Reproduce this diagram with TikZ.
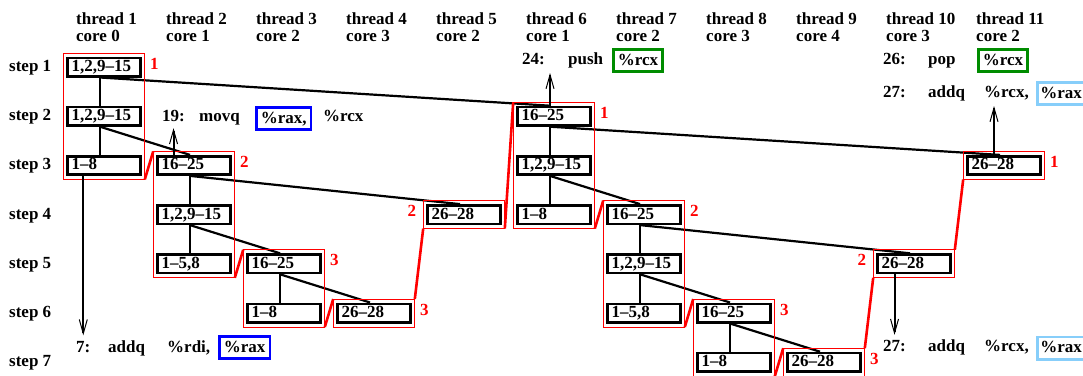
\documentclass[tikz,border=0pt]{standalone}
\usepackage{fontspec}
\setmainfont{Liberation Serif}
\usetikzlibrary{fit,arrows.meta}

\definecolor{regblue}{RGB}{0,0,255}
\definecolor{reggreen}{RGB}{0,140,0}
\definecolor{reglight}{RGB}{135,206,250}

\begin{document}
\begin{tikzpicture}[x=1pt, y=-1pt,
    font={\fontsize{17pt}{17pt}\selectfont\bfseries},
    txt/.style={anchor=west, inner sep=0pt, text height=12pt, text depth=3pt},
    tbox/.style={draw, line width=2.6pt, fill=white, text width=65pt, align=left,
        inner xsep=4pt, inner ysep=1.5pt, minimum height=18.4pt, text height=12pt, text depth=3pt},
    regbox/.style={draw=#1, line width=2.6pt, fill=white, anchor=west,
        inner xsep=4.5pt, inner ysep=3.7pt, text height=12pt, text depth=3pt},
    grp/.style={draw=red, line width=0.8pt, inner xsep=3pt, inner ysep=3.5pt, outer sep=0pt},
    hop/.style={red, line width=2.6pt},
    lvl/.style={red, inner sep=0pt, text height=12pt, text depth=3pt},
    link/.style={line width=2.2pt},
    uses/.style={line width=2pt, -{Straight Barb[length=14pt,width=8pt,line width=1pt]}}]
    \useasboundingbox (0,0) rectangle (1083,375);

    % headers and steps
    \foreach \t/\c in {1/0,2/1,3/2,4/3,5/2,6/1,7/2,8/3,9/4,10/3,11/2}
        \node[anchor=west, align=left, inner sep=0pt] (th\t) at ({-14+90*\t},27) {thread \t\\core \c};
    \foreach \s in {1,...,7}
        \node[txt] (step\s) at (9,{67+49.2*(\s-1)}) {step \s};

    % task boxes
    \node[tbox] (t1s1) at (104,67) {1,2,9--15};
    \node[tbox] (t1s2) at (104,116.2) {1,2,9--15};
    \node[tbox] (t1s3) at (104,165.4) {1--8};
    \node[tbox] (t2s3) at (194,165.4) {16--25};
    \node[tbox] (t2s4) at (194,214.6) {1,2,9--15};
    \node[tbox] (t2s5) at (194,263.8) {1--5,8};
    \node[tbox] (t3s5) at (284,263.8) {16--25};
    \node[tbox] (t3s6) at (284,313) {1--8};
    \node[tbox] (t4s6) at (374,313) {26--28};
    \node[tbox] (t5s4) at (464,214.6) {26--28};
    \node[tbox] (t6s2) at (554,116.2) {16--25};
    \node[tbox] (t6s3) at (554,165.4) {1,2,9--15};
    \node[tbox] (t6s4) at (554,214.6) {1--8};
    \node[tbox] (t7s4) at (644,214.6) {16--25};
    \node[tbox] (t7s5) at (644,263.8) {1,2,9--15};
    \node[tbox] (t7s6) at (644,313) {1--5,8};
    \node[tbox] (t8s6) at (734,313) {16--25};
    \node[tbox] (t8s7) at (734,362.2) {1--8};
    \node[tbox] (t9s7) at (824,362.2) {26--28};
    \node[tbox] (t10s5) at (914,263.8) {26--28};
    \node[tbox] (t11s3) at (1004,165.4) {26--28};

    % tree edges
    \draw[link] ([xshift=-4pt]t1s1.south) -- ([xshift=-4pt]t1s2.north);
    \draw[link] ([xshift=-4pt]t1s2.south) -- ([xshift=-4pt]t1s3.north);
    \draw[link] ([xshift=-4pt]t1s1.south) -- ([xshift=-4pt]t6s2.north);
    \draw[link] ([xshift=-4pt]t1s2.south) -- ([xshift=-4pt]t2s3.north);
    \draw[link] ([xshift=-4pt]t2s3.south) -- ([xshift=-4pt]t2s4.north);
    \draw[link] ([xshift=-4pt]t2s4.south) -- ([xshift=-4pt]t2s5.north);
    \draw[link] ([xshift=-4pt]t2s3.south) -- ([xshift=-4pt]t5s4.north);
    \draw[link] ([xshift=-4pt]t2s4.south) -- ([xshift=-4pt]t3s5.north);
    \draw[link] ([xshift=-4pt]t3s5.south) -- ([xshift=-4pt]t3s6.north);
    \draw[link] ([xshift=-4pt]t3s5.south) -- ([xshift=-4pt]t4s6.north);
    \draw[link] ([xshift=-4pt]t6s2.south) -- ([xshift=-4pt]t6s3.north);
    \draw[link] ([xshift=-4pt]t6s3.south) -- ([xshift=-4pt]t6s4.north);
    \draw[link] ([xshift=-4pt]t6s2.south) -- ([xshift=-4pt]t11s3.north);
    \draw[link] ([xshift=-4pt]t6s3.south) -- ([xshift=-4pt]t7s4.north);
    \draw[link] ([xshift=-4pt]t7s4.south) -- ([xshift=-4pt]t7s5.north);
    \draw[link] ([xshift=-4pt]t7s5.south) -- ([xshift=-4pt]t7s6.north);
    \draw[link] ([xshift=-4pt]t7s4.south) -- ([xshift=-4pt]t10s5.north);
    \draw[link] ([xshift=-4pt]t7s5.south) -- ([xshift=-4pt]t8s6.north);
    \draw[link] ([xshift=-4pt]t8s6.south) -- ([xshift=-4pt]t8s7.north);
    \draw[link] ([xshift=-4pt]t8s6.south) -- ([xshift=-4pt]t9s7.north);

    % thread groups
    \node[grp, fit=(t1s1)(t1s3)] (r1) {};
    \node[grp, fit=(t2s3)(t2s5)] (r2) {};
    \node[grp, fit=(t3s5)(t3s6)] (r3) {};
    \node[grp, fit=(t4s6)] (r4) {};
    \node[grp, fit=(t5s4)] (r5) {};
    \node[grp, fit=(t6s2)(t6s4)] (r6) {};
    \node[grp, fit=(t7s4)(t7s6)] (r7) {};
    \node[grp, fit=(t8s6)(t8s7)] (r8) {};
    \node[grp, fit=(t9s7)] (r9) {};
    \node[grp, fit=(t10s5)] (r10) {};
    \node[grp, fit=(t11s3)] (r11) {};

    \draw[hop] (r1.south east) -- (r2.north west);
    \draw[hop] (r2.south east) -- (r3.north west);
    \draw[hop] (r3.south east) -- (r4.north west);
    \draw[hop] (r4.north east) -- (r5.south west);
    \draw[hop] (r5.south east) -- (r6.north west);
    \draw[hop] (r6.south east) -- (r7.north west);
    \draw[hop] (r7.south east) -- (r8.north west);
    \draw[hop] (r8.south east) -- (r9.north west);
    \draw[hop] (r9.north east) -- (r10.south west);
    \draw[hop] (r10.north east) -- (r11.south west);

    \node[lvl, anchor=west, xshift=5pt, yshift=2.5pt] (l1) at (r1.east |- t1s1) {1};
    \node[lvl, anchor=west, xshift=5pt, yshift=2.5pt] (l2) at (r2.east |- t2s3) {2};
    \node[lvl, anchor=west, xshift=5pt, yshift=2.5pt] (l3) at (r3.east |- t3s5) {3};
    \node[lvl, anchor=west, xshift=5pt, yshift=2.5pt] (l4) at (r4.east |- t4s6) {3};
    \node[lvl, anchor=east, xshift=-7pt, yshift=2.5pt] (l5) at (r5.west |- t5s4) {2};
    \node[lvl, anchor=west, xshift=5pt, yshift=2.5pt] (l6) at (r6.east |- t6s2) {1};
    \node[lvl, anchor=west, xshift=5pt, yshift=2.5pt] (l7) at (r7.east |- t7s4) {2};
    \node[lvl, anchor=west, xshift=5pt, yshift=2.5pt] (l8) at (r8.east |- t8s6) {3};
    \node[lvl, anchor=west, xshift=5pt, yshift=2.5pt] (l9) at (r9.east |- t9s7) {3};
    \node[lvl, anchor=east, xshift=-7pt, yshift=2.5pt] (l10) at (r10.west |- t10s5) {2};
    \node[lvl, anchor=west, xshift=5pt, yshift=2.5pt] (l11) at (r11.east |- t11s3) {1};

    % instructions
    \node[txt] (n19) at (162,117) {19:};
    \node[txt] (op19) at (199,117) {movq};
    \node[regbox=regblue] (a19) at (255,118.5) {\%rax,};
    \node[txt] (b19) at (323,117) {\%rcx};

    \node[txt] (n24) at (522,60) {24:};
    \node[txt] (op24) at (568,60) {push};
    \node[regbox=reggreen] (a24) at (612,60.5) {\%rcx};

    \node[txt] (n26) at (883,60) {26:};
    \node[txt] (op26) at (928,60) {pop};
    \node[regbox=reggreen] (a26) at (977,60.5) {\%rcx};

    \node[txt] (n27a) at (883,93) {27:};
    \node[txt] (op27a) at (928,93) {addq};
    \node[txt] (a27a) at (984,93) {\%rcx,};
    \node[regbox=reglight, inner xsep=3pt] (b27a) at (1036,93.5) {\%rax};

    \node[txt] (n7) at (76,348) {7:};
    \node[txt] (op7) at (108,348) {addq};
    \node[txt] (a7) at (167,348) {\%rdi,};
    \node[regbox=regblue] (b7) at (218,347.5) {\%rax};

    \node[txt] (n27b) at (883,347) {27:};
    \node[txt] (op27b) at (928,347) {addq};
    \node[txt] (a27b) at (984,347) {\%rcx,};
    \node[regbox=reglight, inner xsep=3pt] (b27b) at (1036,348) {\%rax};

    % data flow arrows
    \coordinate (up24) at (550,73);
    \coordinate (up27) at (994,106);
    \draw[uses] (t1s3.south -| n7) -- ([yshift=5pt]n7.north);
    \draw[uses] (t2s3.north -| n19) -- ([yshift=-3.5pt]n19.south);
    \draw[uses] ([xshift=-4pt]t6s2.north) -- (up24);
    \draw[uses] (t10s5.south -| n27b) -- ([yshift=4.5pt]n27b.north);
    \draw[uses] (t11s3.north -| up27) -- (up27);
\end{tikzpicture}
\end{document}
